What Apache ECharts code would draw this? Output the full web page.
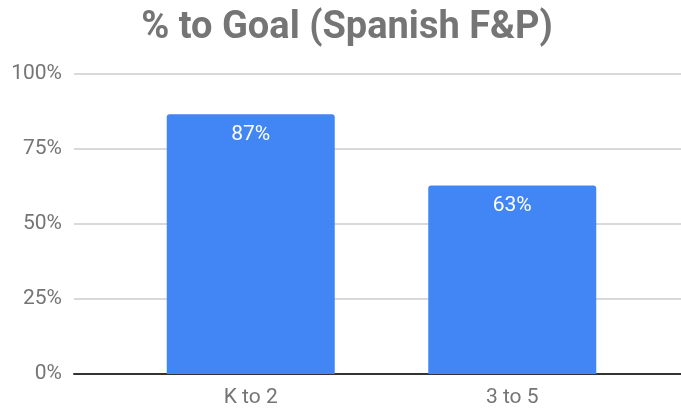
<!DOCTYPE html>
<html>
<head>
<meta charset="utf-8">
<script src="https://cdn.jsdelivr.net/npm/echarts@6/dist/echarts.min.js"></script>
<style>
  html, body { margin: 0; padding: 0; background: #fff; }
  #main { width: 681px; height: 408px; }
</style>
</head>
<body>
<div id="main"></div>
<script>
// 图表数据
var categories = ['K to 2', '3 to 5'];
var goalValues = [0.866, 0.628];
var yTicks = [0, 0.25, 0.5, 0.75, 1];

var chart = echarts.init(document.getElementById('main'), null, { renderer: 'canvas' });

var gray = '#757575';
var font = 'Roboto, "Noto Sans", sans-serif';

var option = {
  backgroundColor: '#ffffff',
  animation: false,
  title: {
    text: '% to Goal (Spanish F&P)',
    left: 347,
    textAlign: 'center',
    top: 9,
    padding: 0,
    textStyle: {
      color: gray,
      fontSize: 38,
      fontWeight: 'bold',
      fontFamily: font
    }
  },
  // 两个grid：一个画网格线和底轴，一个放柱子
  grid: [
    { left: 74, right: 0, top: 74, bottom: 34 },
    { left: 120, right: 38, top: 74, bottom: 34 }
  ],
  xAxis: [
    {
      gridIndex: 0,
      type: 'category',
      data: categories,
      axisTick: { show: false },
      axisLabel: { show: false },
      axisLine: { lineStyle: { color: '#333333', width: 2 } }
    },
    {
      gridIndex: 1,
      type: 'category',
      data: categories,
      axisTick: { show: false },
      axisLine: { show: false },
      axisLabel: {
        color: gray,
        fontSize: 21,
        fontFamily: font,
        margin: 13
      }
    }
  ],
  yAxis: [
    {
      gridIndex: 0,
      type: 'value',
      min: yTicks[0],
      max: yTicks[yTicks.length - 1],
      interval: yTicks[1] - yTicks[0],
      axisLine: { show: false },
      axisTick: { show: false },
      splitLine: { lineStyle: { color: '#cccccc', width: 1.5 } },
      axisLabel: {
        color: gray,
        fontSize: 21,
        fontFamily: font,
        margin: 12,
        formatter: function (v) { return Math.round(v * 100) + '%'; }
      }
    },
    {
      gridIndex: 1,
      type: 'value',
      min: yTicks[0],
      max: yTicks[yTicks.length - 1],
      show: false
    }
  ],
  series: [{
    type: 'bar',
    xAxisIndex: 1,
    yAxisIndex: 1,
    data: goalValues,
    barWidth: 168,
    itemStyle: {
      color: '#4285f4',
      borderRadius: [3, 3, 0, 0]
    },
    label: {
      show: true,
      position: 'insideTop',
      distance: 10,
      color: '#ffffff',
      fontSize: 21,
      fontFamily: font,
      formatter: function (p) { return Math.round(p.value * 100) + '%'; }
    }
  }]
};

chart.setOption(option);
</script>
</body>
</html>
